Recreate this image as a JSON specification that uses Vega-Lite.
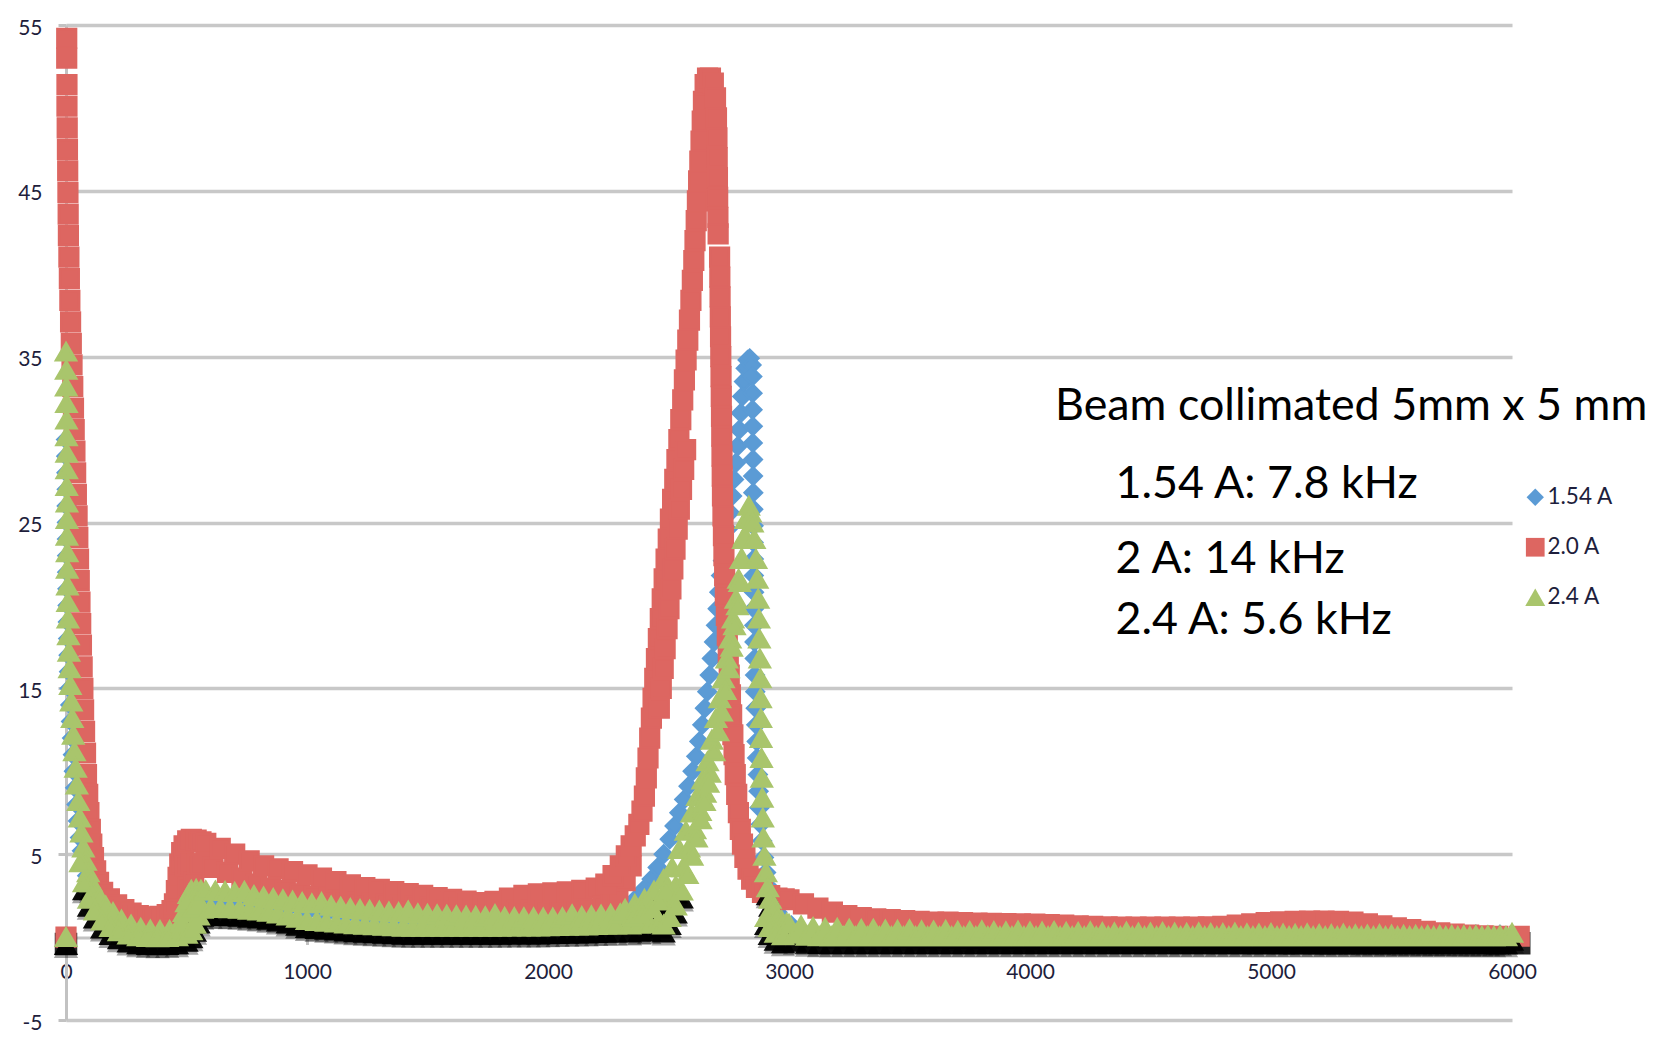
{
"$schema":"https://vega.github.io/schema/vega-lite/v6.json",
"width":1446,"height":995,
"autosize":{"type":"none"},
"padding":{"left":66,"top":25,"right":152,"bottom":37},
"background":"white",
"config":{"view":{"stroke":null},
"axis":{"labelFont":"Lato","labelFontSize":21,"labelColor":"#1e1e3c","domainColor":"#c2c2c2","domainWidth":3,"tickColor":"#c2c2c2","tickWidth":3,"gridColor":"#c8c8c8","gridWidth":3.5,"title":null,"labelFlush":false,"labelOverlap":false}},
"datasets":{
"pts":[
{"s":"1.54 A","x":0,"y":0},{"s":"1.54 A","x":0,"y":30},{"s":"1.54 A","x":1,"y":29},{"s":"1.54 A","x":2,"y":28},{"s":"1.54 A","x":3,"y":27},{"s":"1.54 A","x":3,"y":26},{"s":"1.54 A","x":4,"y":25},{"s":"1.54 A","x":4,"y":24},{"s":"1.54 A","x":5,"y":23},{"s":"1.54 A","x":5,"y":22},{"s":"1.54 A","x":6,"y":21},{"s":"1.54 A","x":7,"y":20},{"s":"1.54 A","x":8,"y":19},{"s":"1.54 A","x":9,"y":18},{"s":"1.54 A","x":11,"y":17},{"s":"1.54 A","x":13,"y":16},{"s":"1.54 A","x":15,"y":15},{"s":"1.54 A","x":18,"y":14},{"s":"1.54 A","x":21,"y":13},{"s":"1.54 A","x":25,"y":12},{"s":"1.54 A","x":29,"y":11},{"s":"1.54 A","x":33,"y":10},{"s":"1.54 A","x":38,"y":9},{"s":"1.54 A","x":44,"y":8},{"s":"1.54 A","x":50,"y":7},{"s":"1.54 A","x":58,"y":6},{"s":"1.54 A","x":66,"y":5.2},{"s":"1.54 A","x":76,"y":4.4},{"s":"1.54 A","x":88,"y":3.7},{"s":"1.54 A","x":100,"y":3.1},{"s":"1.54 A","x":120,"y":2.4},{"s":"1.54 A","x":140,"y":1.9},{"s":"1.54 A","x":170,"y":1.4},{"s":"1.54 A","x":200,"y":1.1},{"s":"1.54 A","x":240,"y":0.8},{"s":"1.54 A","x":280,"y":0.55},{"s":"1.54 A","x":320,"y":0.4},{"s":"1.54 A","x":360,"y":0.35},{"s":"1.54 A","x":400,"y":0.35},{"s":"1.54 A","x":440,"y":0.4},{"s":"1.54 A","x":470,"y":0.5},{"s":"1.54 A","x":490,"y":0.8},{"s":"1.54 A","x":505,"y":1.4},{"s":"1.54 A","x":520,"y":1.9},{"s":"1.54 A","x":540,"y":1.8},
{"s":"1.54 A","x":560,"y":2.3},{"s":"1.54 A","x":600,"y":2.1},{"s":"1.54 A","x":680,"y":2.2},{"s":"1.54 A","x":760,"y":2.0},{"s":"1.54 A","x":840,"y":1.9},{"s":"1.54 A","x":920,"y":1.7},{"s":"1.54 A","x":1000,"y":1.5},{"s":"1.54 A","x":1080,"y":1.4},{"s":"1.54 A","x":1160,"y":1.3},{"s":"1.54 A","x":1240,"y":1.2},{"s":"1.54 A","x":1320,"y":1.1},{"s":"1.54 A","x":1400,"y":1.05},{"s":"1.54 A","x":1480,"y":1.0},{"s":"1.54 A","x":1560,"y":1.0},{"s":"1.54 A","x":1640,"y":0.95},{"s":"1.54 A","x":1720,"y":0.95},{"s":"1.54 A","x":1800,"y":0.92},{"s":"1.54 A","x":1880,"y":0.92},{"s":"1.54 A","x":1960,"y":0.9},{"s":"1.54 A","x":2040,"y":0.9},{"s":"1.54 A","x":2120,"y":0.95},{"s":"1.54 A","x":2200,"y":1.0},{"s":"1.54 A","x":2260,"y":1.1},{"s":"1.54 A","x":2300,"y":1.3},
{"s":"1.54 A","x":2340,"y":1.9},{"s":"1.54 A","x":2370,"y":2.4},{"s":"1.54 A","x":2400,"y":2.9},{"s":"1.54 A","x":2430,"y":3.5},{"s":"1.54 A","x":2455,"y":4.2},{"s":"1.54 A","x":2480,"y":5.0},{"s":"1.54 A","x":2505,"y":5.9},{"s":"1.54 A","x":2525,"y":6.7},{"s":"1.54 A","x":2545,"y":7.5},{"s":"1.54 A","x":2565,"y":8.3},{"s":"1.54 A","x":2583,"y":9.1},{"s":"1.54 A","x":2600,"y":10.0},{"s":"1.54 A","x":2615,"y":10.9},{"s":"1.54 A","x":2628,"y":11.8},{"s":"1.54 A","x":2640,"y":12.8},{"s":"1.54 A","x":2651,"y":13.8},{"s":"1.54 A","x":2661,"y":14.8},{"s":"1.54 A","x":2671,"y":15.8},{"s":"1.54 A","x":2680,"y":16.8},{"s":"1.54 A","x":2689,"y":17.8},{"s":"1.54 A","x":2697,"y":18.8},{"s":"1.54 A","x":2704,"y":19.8},{"s":"1.54 A","x":2711,"y":20.8},{"s":"1.54 A","x":2718,"y":21.8},{"s":"1.54 A","x":2726,"y":22.7},{"s":"1.54 A","x":2735,"y":23.6},{"s":"1.54 A","x":2745,"y":24.6},{"s":"1.54 A","x":2755,"y":25.6},{"s":"1.54 A","x":2764,"y":26.6},{"s":"1.54 A","x":2772,"y":27.6},{"s":"1.54 A","x":2780,"y":28.6},{"s":"1.54 A","x":2787,"y":29.6},{"s":"1.54 A","x":2794,"y":30.6},{"s":"1.54 A","x":2800,"y":31.6},{"s":"1.54 A","x":2806,"y":32.6},{"s":"1.54 A","x":2813,"y":33.5},{"s":"1.54 A","x":2820,"y":34.3},{"s":"1.54 A","x":2828,"y":34.8},{"s":"1.54 A","x":2837,"y":34.9},{"s":"1.54 A","x":2845,"y":34.5},
{"s":"1.54 A","x":2848,"y":33.8},{"s":"1.54 A","x":2849,"y":32.8},{"s":"1.54 A","x":2849,"y":31.8},{"s":"1.54 A","x":2850,"y":30.8},{"s":"1.54 A","x":2850,"y":29.8},{"s":"1.54 A","x":2851,"y":28.8},{"s":"1.54 A","x":2851,"y":27.8},{"s":"1.54 A","x":2852,"y":26.8},{"s":"1.54 A","x":2852,"y":25.8},{"s":"1.54 A","x":2853,"y":24.8},{"s":"1.54 A","x":2853,"y":23.8},{"s":"1.54 A","x":2854,"y":22.8},{"s":"1.54 A","x":2854,"y":21.8},{"s":"1.54 A","x":2855,"y":20.8},{"s":"1.54 A","x":2855,"y":19.8},{"s":"1.54 A","x":2856,"y":18.8},{"s":"1.54 A","x":2857,"y":17.8},{"s":"1.54 A","x":2858,"y":16.8},{"s":"1.54 A","x":2859,"y":15.8},{"s":"1.54 A","x":2860,"y":14.8},{"s":"1.54 A","x":2862,"y":13.8},{"s":"1.54 A","x":2864,"y":12.8},{"s":"1.54 A","x":2866,"y":11.8},{"s":"1.54 A","x":2868,"y":10.8},{"s":"1.54 A","x":2871,"y":9.8},{"s":"1.54 A","x":2874,"y":8.8},{"s":"1.54 A","x":2878,"y":7.8},{"s":"1.54 A","x":2883,"y":6.8},{"s":"1.54 A","x":2889,"y":5.8},{"s":"1.54 A","x":2896,"y":4.8},{"s":"1.54 A","x":2905,"y":3.9},{"s":"1.54 A","x":2917,"y":3.0},{"s":"1.54 A","x":2932,"y":2.2},{"s":"1.54 A","x":2952,"y":1.5},{"s":"1.54 A","x":2978,"y":1.0},{"s":"1.54 A","x":3010,"y":0.7},
{"s":"1.54 A","x":3050,"y":0.3},{"s":"1.54 A","x":3150,"y":0.15},{"s":"1.54 A","x":3250,"y":0.3},{"s":"1.54 A","x":3350,"y":0.15},{"s":"1.54 A","x":3450,"y":0.25},{"s":"1.54 A","x":3550,"y":0.15},{"s":"1.54 A","x":3650,"y":0.25},{"s":"1.54 A","x":3750,"y":0.15},{"s":"1.54 A","x":3850,"y":0.25},{"s":"1.54 A","x":3950,"y":0.15},{"s":"1.54 A","x":4050,"y":0.25},{"s":"1.54 A","x":4150,"y":0.15},{"s":"1.54 A","x":4250,"y":0.25},{"s":"1.54 A","x":4350,"y":0.15},{"s":"1.54 A","x":4450,"y":0.25},{"s":"1.54 A","x":4550,"y":0.15},{"s":"1.54 A","x":4650,"y":0.25},{"s":"1.54 A","x":4750,"y":0.15},{"s":"1.54 A","x":4850,"y":0.2},{"s":"1.54 A","x":4950,"y":0.15},{"s":"1.54 A","x":5050,"y":0.2},{"s":"1.54 A","x":5150,"y":0.15},{"s":"1.54 A","x":5250,"y":0.2},{"s":"1.54 A","x":5350,"y":0.15},{"s":"1.54 A","x":5450,"y":0.15},{"s":"1.54 A","x":5550,"y":0.15},{"s":"1.54 A","x":5650,"y":0.15},{"s":"1.54 A","x":5750,"y":0.15},{"s":"1.54 A","x":5850,"y":0.15},{"s":"1.54 A","x":5950,"y":0.15},

{"s":"2.0 A","x":0,"y":0},{"s":"2.0 A","x":3,"y":54.2},{"s":"2.0 A","x":3,"y":53.0},{"s":"2.0 A","x":4,"y":51.4},{"s":"2.0 A","x":4,"y":50.1},{"s":"2.0 A","x":5,"y":48.8},{"s":"2.0 A","x":6,"y":47.5},{"s":"2.0 A","x":7,"y":46.2},{"s":"2.0 A","x":8,"y":44.9},{"s":"2.0 A","x":9,"y":43.6},{"s":"2.0 A","x":10,"y":42.3},{"s":"2.0 A","x":12,"y":41.0},{"s":"2.0 A","x":14,"y":39.7},{"s":"2.0 A","x":16,"y":38.4},{"s":"2.0 A","x":19,"y":37.1},{"s":"2.0 A","x":22,"y":35.8},{"s":"2.0 A","x":25,"y":34.5},{"s":"2.0 A","x":28,"y":33.2},{"s":"2.0 A","x":31,"y":31.9},{"s":"2.0 A","x":34,"y":30.6},{"s":"2.0 A","x":37,"y":29.3},{"s":"2.0 A","x":40,"y":28.0},{"s":"2.0 A","x":43,"y":26.7},{"s":"2.0 A","x":46,"y":25.4},{"s":"2.0 A","x":49,"y":24.1},{"s":"2.0 A","x":52,"y":22.8},{"s":"2.0 A","x":55,"y":21.5},{"s":"2.0 A","x":58,"y":20.2},{"s":"2.0 A","x":61,"y":18.9},{"s":"2.0 A","x":64,"y":17.6},{"s":"2.0 A","x":67,"y":16.3},{"s":"2.0 A","x":70,"y":15.0},{"s":"2.0 A","x":73,"y":13.7},{"s":"2.0 A","x":77,"y":12.4},{"s":"2.0 A","x":81,"y":11.1},{"s":"2.0 A","x":85,"y":9.8},{"s":"2.0 A","x":90,"y":8.6},{"s":"2.0 A","x":95,"y":7.5},{"s":"2.0 A","x":101,"y":6.5},{"s":"2.0 A","x":107,"y":5.6},{"s":"2.0 A","x":114,"y":4.8},{"s":"2.0 A","x":123,"y":4.0},{"s":"2.0 A","x":135,"y":3.3},{"s":"2.0 A","x":152,"y":2.7},{"s":"2.0 A","x":180,"y":2.3},{"s":"2.0 A","x":210,"y":1.95},{"s":"2.0 A","x":240,"y":1.65},{"s":"2.0 A","x":270,"y":1.45},{"s":"2.0 A","x":300,"y":1.3},{"s":"2.0 A","x":330,"y":1.2},{"s":"2.0 A","x":360,"y":1.2},{"s":"2.0 A","x":390,"y":1.25},{"s":"2.0 A","x":420,"y":1.35},{"s":"2.0 A","x":440,"y":1.6},
{"s":"2.0 A","x":450,"y":2.0},{"s":"2.0 A","x":458,"y":2.8},{"s":"2.0 A","x":465,"y":3.6},{"s":"2.0 A","x":472,"y":4.4},{"s":"2.0 A","x":480,"y":5.1},{"s":"2.0 A","x":490,"y":5.5},{"s":"2.0 A","x":505,"y":5.8},{"s":"2.0 A","x":520,"y":5.9},{"s":"2.0 A","x":540,"y":5.85},{"s":"2.0 A","x":560,"y":5.75},
{"s":"2.0 A","x":495,"y":4.3},{"s":"2.0 A","x":505,"y":3.0},{"s":"2.0 A","x":520,"y":4.4},{"s":"2.0 A","x":530,"y":3.3},{"s":"2.0 A","x":545,"y":4.4},{"s":"2.0 A","x":560,"y":4.4},
{"s":"2.0 A","x":580,"y":5.65},{"s":"2.0 A","x":610,"y":4.2},{"s":"2.0 A","x":640,"y":5.35},{"s":"2.0 A","x":670,"y":3.9},{"s":"2.0 A","x":700,"y":5.0},{"s":"2.0 A","x":730,"y":3.55},{"s":"2.0 A","x":760,"y":4.6},{"s":"2.0 A","x":790,"y":3.2},{"s":"2.0 A","x":820,"y":4.3},{"s":"2.0 A","x":850,"y":2.95},{"s":"2.0 A","x":880,"y":4.12},{"s":"2.0 A","x":910,"y":2.8},{"s":"2.0 A","x":940,"y":3.95},{"s":"2.0 A","x":970,"y":2.6},{"s":"2.0 A","x":1000,"y":3.75},{"s":"2.0 A","x":1030,"y":2.45},{"s":"2.0 A","x":1060,"y":3.55},{"s":"2.0 A","x":1090,"y":2.35},{"s":"2.0 A","x":1120,"y":3.35},{"s":"2.0 A","x":1150,"y":2.2},{"s":"2.0 A","x":1180,"y":3.15},{"s":"2.0 A","x":1210,"y":2.1},{"s":"2.0 A","x":1240,"y":2.98},{"s":"2.0 A","x":1270,"y":2.05},{"s":"2.0 A","x":1300,"y":2.88},{"s":"2.0 A","x":1330,"y":2.0},{"s":"2.0 A","x":1360,"y":2.75},{"s":"2.0 A","x":1390,"y":1.93},{"s":"2.0 A","x":1420,"y":2.62},{"s":"2.0 A","x":1450,"y":1.88},{"s":"2.0 A","x":1480,"y":2.52},{"s":"2.0 A","x":1510,"y":1.83},{"s":"2.0 A","x":1540,"y":2.38},{"s":"2.0 A","x":1570,"y":1.78},{"s":"2.0 A","x":1600,"y":2.27},{"s":"2.0 A","x":1630,"y":1.75},{"s":"2.0 A","x":1660,"y":2.17},{"s":"2.0 A","x":1690,"y":1.72},{"s":"2.0 A","x":1720,"y":2.08},{"s":"2.0 A","x":1750,"y":1.68},{"s":"2.0 A","x":1780,"y":2.15},{"s":"2.0 A","x":1810,"y":1.65},{"s":"2.0 A","x":1840,"y":2.35},{"s":"2.0 A","x":1870,"y":1.63},{"s":"2.0 A","x":1900,"y":2.52},{"s":"2.0 A","x":1930,"y":1.61},{"s":"2.0 A","x":1960,"y":2.6},{"s":"2.0 A","x":1990,"y":1.6},{"s":"2.0 A","x":2020,"y":2.66},{"s":"2.0 A","x":2050,"y":1.6},{"s":"2.0 A","x":2080,"y":2.72},{"s":"2.0 A","x":2110,"y":1.65},{"s":"2.0 A","x":2140,"y":2.82},{"s":"2.0 A","x":2170,"y":1.7},{"s":"2.0 A","x":2200,"y":2.95},{"s":"2.0 A","x":2230,"y":1.85},
{"s":"2.0 A","x":2260,"y":2.2},{"s":"2.0 A","x":2290,"y":2.6},{"s":"2.0 A","x":2320,"y":3.4},{"s":"2.0 A","x":2345,"y":4.3},
{"s":"2.0 A","x":2240,"y":3.2},{"s":"2.0 A","x":2270,"y":3.7},{"s":"2.0 A","x":2300,"y":4.3},{"s":"2.0 A","x":2325,"y":4.9},{"s":"2.0 A","x":2345,"y":5.5},{"s":"2.0 A","x":2362,"y":6.1},{"s":"2.0 A","x":2377,"y":6.8},{"s":"2.0 A","x":2390,"y":7.6},{"s":"2.0 A","x":2400,"y":8.5},{"s":"2.0 A","x":2408,"y":9.6},{"s":"2.0 A","x":2415,"y":10.8},{"s":"2.0 A","x":2422,"y":12},{"s":"2.0 A","x":2429,"y":13.2},{"s":"2.0 A","x":2436,"y":14.4},{"s":"2.0 A","x":2443,"y":15.6},{"s":"2.0 A","x":2450,"y":16.8},{"s":"2.0 A","x":2458,"y":18},{"s":"2.0 A","x":2466,"y":19.2},{"s":"2.0 A","x":2474,"y":20.4},{"s":"2.0 A","x":2482,"y":21.6},{"s":"2.0 A","x":2490,"y":22.8},{"s":"2.0 A","x":2499,"y":24},{"s":"2.0 A","x":2508,"y":25.2},{"s":"2.0 A","x":2517,"y":26.4},{"s":"2.0 A","x":2526,"y":27.6},{"s":"2.0 A","x":2535,"y":28.8},{"s":"2.0 A","x":2543,"y":30},{"s":"2.0 A","x":2551,"y":31.2},{"s":"2.0 A","x":2559,"y":32.4},{"s":"2.0 A","x":2566,"y":33.6},{"s":"2.0 A","x":2573,"y":34.8},{"s":"2.0 A","x":2580,"y":36},{"s":"2.0 A","x":2587,"y":37.2},{"s":"2.0 A","x":2593,"y":38.4},{"s":"2.0 A","x":2599,"y":39.6},{"s":"2.0 A","x":2605,"y":40.8},{"s":"2.0 A","x":2610,"y":42},{"s":"2.0 A","x":2615,"y":43.2},{"s":"2.0 A","x":2620,"y":44.4},{"s":"2.0 A","x":2625,"y":45.6},{"s":"2.0 A","x":2630,"y":46.8},{"s":"2.0 A","x":2635,"y":48},{"s":"2.0 A","x":2640,"y":49.2},{"s":"2.0 A","x":2645,"y":50.4},{"s":"2.0 A","x":2652,"y":51.4},{"s":"2.0 A","x":2662,"y":51.8},{"s":"2.0 A","x":2674,"y":51.8},{"s":"2.0 A","x":2686,"y":51.5},{"s":"2.0 A","x":2695,"y":50.6},{"s":"2.0 A","x":2699,"y":49.4},{"s":"2.0 A","x":2701,"y":48.2},{"s":"2.0 A","x":2702,"y":47},{"s":"2.0 A","x":2703,"y":45.8},{"s":"2.0 A","x":2704,"y":44.6},{"s":"2.0 A","x":2705,"y":43.4},{"s":"2.0 A","x":2706,"y":42.4},{"s":"2.0 A","x":2712,"y":41},{"s":"2.0 A","x":2713,"y":39.8},{"s":"2.0 A","x":2714,"y":38.6},{"s":"2.0 A","x":2715,"y":37.4},{"s":"2.0 A","x":2716,"y":36.2},{"s":"2.0 A","x":2717,"y":35},{"s":"2.0 A","x":2718,"y":33.8},{"s":"2.0 A","x":2719,"y":32.6},{"s":"2.0 A","x":2720,"y":31.4},{"s":"2.0 A","x":2721,"y":30.2},{"s":"2.0 A","x":2722,"y":29},{"s":"2.0 A","x":2723,"y":27.8},{"s":"2.0 A","x":2724,"y":26.6},{"s":"2.0 A","x":2726,"y":25.4},{"s":"2.0 A","x":2728,"y":24.2},{"s":"2.0 A","x":2730,"y":23},{"s":"2.0 A","x":2733,"y":21.8},{"s":"2.0 A","x":2736,"y":20.6},{"s":"2.0 A","x":2740,"y":19.4},{"s":"2.0 A","x":2744,"y":18.2},{"s":"2.0 A","x":2748,"y":17},{"s":"2.0 A","x":2752,"y":15.8},{"s":"2.0 A","x":2757,"y":14.6},{"s":"2.0 A","x":2762,"y":13.4},{"s":"2.0 A","x":2767,"y":12.2},{"s":"2.0 A","x":2772,"y":11},{"s":"2.0 A","x":2777,"y":9.8},{"s":"2.0 A","x":2783,"y":8.6},{"s":"2.0 A","x":2790,"y":7.5},{"s":"2.0 A","x":2798,"y":6.5},{"s":"2.0 A","x":2807,"y":5.6},{"s":"2.0 A","x":2817,"y":4.8},{"s":"2.0 A","x":2830,"y":4.1},{"s":"2.0 A","x":2845,"y":3.5},{"s":"2.0 A","x":2865,"y":3.0},{"s":"2.0 A","x":2890,"y":2.7},{"s":"2.0 A","x":2920,"y":2.5},{"s":"2.0 A","x":2950,"y":2.35},{"s":"2.0 A","x":2980,"y":2.3},
{"s":"2.0 A","x":2462,"y":13.8},{"s":"2.0 A","x":2470,"y":15.0},{"s":"2.0 A","x":2478,"y":16.2},{"s":"2.0 A","x":2486,"y":17.4},{"s":"2.0 A","x":2494,"y":18.6},{"s":"2.0 A","x":2502,"y":19.8},{"s":"2.0 A","x":2510,"y":21.0},{"s":"2.0 A","x":2518,"y":22.2},{"s":"2.0 A","x":2527,"y":23.4},{"s":"2.0 A","x":2536,"y":24.6},{"s":"2.0 A","x":2545,"y":25.8},{"s":"2.0 A","x":2554,"y":27.0},{"s":"2.0 A","x":2563,"y":28.2},{"s":"2.0 A","x":2571,"y":29.4},
{"s":"2.0 A","x":3000,"y":2.25},{"s":"2.0 A","x":3060,"y":2.0},{"s":"2.0 A","x":3120,"y":1.75},{"s":"2.0 A","x":3180,"y":1.5},{"s":"2.0 A","x":3240,"y":1.3},{"s":"2.0 A","x":3300,"y":1.18},{"s":"2.0 A","x":3360,"y":1.1},{"s":"2.0 A","x":3420,"y":1.05},{"s":"2.0 A","x":3480,"y":1.0},{"s":"2.0 A","x":3540,"y":0.95},{"s":"2.0 A","x":3600,"y":0.9},{"s":"2.0 A","x":3660,"y":0.9},{"s":"2.0 A","x":3720,"y":0.87},{"s":"2.0 A","x":3780,"y":0.85},{"s":"2.0 A","x":3840,"y":0.83},{"s":"2.0 A","x":3900,"y":0.82},{"s":"2.0 A","x":3960,"y":0.8},{"s":"2.0 A","x":4020,"y":0.78},{"s":"2.0 A","x":4080,"y":0.75},{"s":"2.0 A","x":4140,"y":0.72},{"s":"2.0 A","x":4200,"y":0.68},{"s":"2.0 A","x":4260,"y":0.65},{"s":"2.0 A","x":4320,"y":0.62},{"s":"2.0 A","x":4380,"y":0.6},{"s":"2.0 A","x":4440,"y":0.6},{"s":"2.0 A","x":4500,"y":0.6},{"s":"2.0 A","x":4560,"y":0.6},{"s":"2.0 A","x":4620,"y":0.6},{"s":"2.0 A","x":4680,"y":0.6},{"s":"2.0 A","x":4740,"y":0.62},{"s":"2.0 A","x":4800,"y":0.65},{"s":"2.0 A","x":4860,"y":0.72},{"s":"2.0 A","x":4920,"y":0.8},{"s":"2.0 A","x":4980,"y":0.88},{"s":"2.0 A","x":5040,"y":0.92},{"s":"2.0 A","x":5100,"y":0.95},{"s":"2.0 A","x":5160,"y":0.97},{"s":"2.0 A","x":5220,"y":0.97},{"s":"2.0 A","x":5280,"y":0.95},{"s":"2.0 A","x":5340,"y":0.9},{"s":"2.0 A","x":5400,"y":0.8},{"s":"2.0 A","x":5460,"y":0.68},{"s":"2.0 A","x":5520,"y":0.55},{"s":"2.0 A","x":5580,"y":0.45},{"s":"2.0 A","x":5640,"y":0.35},{"s":"2.0 A","x":5700,"y":0.25},{"s":"2.0 A","x":5760,"y":0.18},{"s":"2.0 A","x":5820,"y":0.12},{"s":"2.0 A","x":5880,"y":0.08},{"s":"2.0 A","x":5940,"y":0.05},{"s":"2.0 A","x":6030,"y":0.05},

{"s":"2.4 A","x":0,"y":0},{"s":"2.4 A","x":0,"y":35.3},{"s":"2.4 A","x":1,"y":34.2},{"s":"2.4 A","x":1,"y":33.2},{"s":"2.4 A","x":2,"y":32.2},{"s":"2.4 A","x":2,"y":31.2},{"s":"2.4 A","x":2,"y":30.2},{"s":"2.4 A","x":3,"y":29.2},{"s":"2.4 A","x":3,"y":28.2},{"s":"2.4 A","x":3,"y":27.2},{"s":"2.4 A","x":4,"y":26.2},{"s":"2.4 A","x":4,"y":25.2},{"s":"2.4 A","x":4,"y":24.2},{"s":"2.4 A","x":5,"y":23.2},{"s":"2.4 A","x":5,"y":22.2},{"s":"2.4 A","x":6,"y":21.2},{"s":"2.4 A","x":7,"y":20.2},{"s":"2.4 A","x":8,"y":19.2},{"s":"2.4 A","x":10,"y":18.2},{"s":"2.4 A","x":12,"y":17.2},{"s":"2.4 A","x":15,"y":16.2},{"s":"2.4 A","x":18,"y":15.2},{"s":"2.4 A","x":22,"y":14.2},{"s":"2.4 A","x":26,"y":13.2},{"s":"2.4 A","x":30,"y":12.2},{"s":"2.4 A","x":35,"y":11.2},{"s":"2.4 A","x":40,"y":10.2},{"s":"2.4 A","x":45,"y":9.2},{"s":"2.4 A","x":51,"y":8.2},{"s":"2.4 A","x":57,"y":7.2},{"s":"2.4 A","x":64,"y":6.3},{"s":"2.4 A","x":72,"y":5.4},{"s":"2.4 A","x":81,"y":4.6},{"s":"2.4 A","x":92,"y":3.9},{"s":"2.4 A","x":105,"y":3.3},{"s":"2.4 A","x":120,"y":2.8},{"s":"2.4 A","x":140,"y":2.4},{"s":"2.4 A","x":165,"y":1.9},{"s":"2.4 A","x":195,"y":1.5},{"s":"2.4 A","x":230,"y":1.05},{"s":"2.4 A","x":270,"y":0.75},{"s":"2.4 A","x":310,"y":0.55},{"s":"2.4 A","x":350,"y":0.45},{"s":"2.4 A","x":390,"y":0.42},{"s":"2.4 A","x":430,"y":0.42},{"s":"2.4 A","x":460,"y":0.5},
{"s":"2.4 A","x":60,"y":4.5},{"s":"2.4 A","x":75,"y":3.3},{"s":"2.4 A","x":95,"y":2.3},{"s":"2.4 A","x":120,"y":1.6},{"s":"2.4 A","x":150,"y":1.0},{"s":"2.4 A","x":185,"y":0.6},{"s":"2.4 A","x":220,"y":0.35},{"s":"2.4 A","x":260,"y":0.15},{"s":"2.4 A","x":300,"y":0.05},{"s":"2.4 A","x":340,"y":0.0},{"s":"2.4 A","x":380,"y":-0.02},{"s":"2.4 A","x":420,"y":0.0},{"s":"2.4 A","x":460,"y":0.05},{"s":"2.4 A","x":500,"y":0.2},
{"s":"2.4 A","x":480,"y":0.9},{"s":"2.4 A","x":490,"y":1.5},{"s":"2.4 A","x":500,"y":2.1},{"s":"2.4 A","x":510,"y":2.6},{"s":"2.4 A","x":520,"y":2.85},{"s":"2.4 A","x":540,"y":2.9},{"s":"2.4 A","x":560,"y":2.85},{"s":"2.4 A","x":520,"y":0.4},{"s":"2.4 A","x":535,"y":0.8},{"s":"2.4 A","x":550,"y":1.3},{"s":"2.4 A","x":565,"y":1.7},{"s":"2.4 A","x":530,"y":1.8},{"s":"2.4 A","x":550,"y":2.2},
{"s":"2.4 A","x":580,"y":2.82},{"s":"2.4 A","x":600,"y":1.76},{"s":"2.4 A","x":620,"y":2.8},{"s":"2.4 A","x":640,"y":1.75},{"s":"2.4 A","x":660,"y":2.77},{"s":"2.4 A","x":680,"y":1.73},{"s":"2.4 A","x":700,"y":2.72},{"s":"2.4 A","x":720,"y":1.7},{"s":"2.4 A","x":740,"y":2.78},{"s":"2.4 A","x":760,"y":1.65},{"s":"2.4 A","x":780,"y":2.53},{"s":"2.4 A","x":800,"y":1.6},{"s":"2.4 A","x":820,"y":2.44},{"s":"2.4 A","x":840,"y":1.52},{"s":"2.4 A","x":860,"y":2.35},{"s":"2.4 A","x":880,"y":1.42},{"s":"2.4 A","x":900,"y":2.27},{"s":"2.4 A","x":920,"y":1.3},{"s":"2.4 A","x":940,"y":2.19},{"s":"2.4 A","x":960,"y":1.16},{"s":"2.4 A","x":980,"y":2.11},{"s":"2.4 A","x":1000,"y":1.02},{"s":"2.4 A","x":1020,"y":2.03},{"s":"2.4 A","x":1040,"y":0.97},{"s":"2.4 A","x":1060,"y":2.1},{"s":"2.4 A","x":1080,"y":0.92},{"s":"2.4 A","x":1100,"y":1.89},{"s":"2.4 A","x":1120,"y":0.87},{"s":"2.4 A","x":1140,"y":1.82},{"s":"2.4 A","x":1160,"y":0.82},{"s":"2.4 A","x":1180,"y":1.75},{"s":"2.4 A","x":1200,"y":0.77},{"s":"2.4 A","x":1220,"y":1.69},{"s":"2.4 A","x":1240,"y":0.74},{"s":"2.4 A","x":1260,"y":1.64},{"s":"2.4 A","x":1280,"y":0.71},{"s":"2.4 A","x":1300,"y":1.59},{"s":"2.4 A","x":1320,"y":0.68},{"s":"2.4 A","x":1340,"y":1.54},{"s":"2.4 A","x":1360,"y":0.65},{"s":"2.4 A","x":1380,"y":1.5},{"s":"2.4 A","x":1400,"y":0.62},{"s":"2.4 A","x":1420,"y":1.6},{"s":"2.4 A","x":1440,"y":0.62},{"s":"2.4 A","x":1460,"y":1.43},{"s":"2.4 A","x":1480,"y":0.62},{"s":"2.4 A","x":1500,"y":1.4},{"s":"2.4 A","x":1520,"y":0.62},{"s":"2.4 A","x":1540,"y":1.37},{"s":"2.4 A","x":1560,"y":0.62},{"s":"2.4 A","x":1580,"y":1.34},{"s":"2.4 A","x":1600,"y":0.62},{"s":"2.4 A","x":1620,"y":1.31},{"s":"2.4 A","x":1640,"y":0.62},{"s":"2.4 A","x":1660,"y":1.29},{"s":"2.4 A","x":1680,"y":0.62},{"s":"2.4 A","x":1700,"y":1.27},{"s":"2.4 A","x":1720,"y":0.62},{"s":"2.4 A","x":1740,"y":1.25},{"s":"2.4 A","x":1760,"y":0.62},{"s":"2.4 A","x":1780,"y":1.38},{"s":"2.4 A","x":1800,"y":0.62},{"s":"2.4 A","x":1820,"y":1.21},{"s":"2.4 A","x":1840,"y":0.63},{"s":"2.4 A","x":1860,"y":1.2},{"s":"2.4 A","x":1880,"y":0.63},{"s":"2.4 A","x":1900,"y":1.19},{"s":"2.4 A","x":1920,"y":0.64},{"s":"2.4 A","x":1940,"y":1.18},{"s":"2.4 A","x":1960,"y":0.64},{"s":"2.4 A","x":1980,"y":1.17},{"s":"2.4 A","x":2000,"y":0.65},{"s":"2.4 A","x":2020,"y":1.17},{"s":"2.4 A","x":2040,"y":0.66},{"s":"2.4 A","x":2060,"y":1.19},{"s":"2.4 A","x":2080,"y":0.68},{"s":"2.4 A","x":2100,"y":1.37},{"s":"2.4 A","x":2120,"y":0.69},{"s":"2.4 A","x":2140,"y":1.26},{"s":"2.4 A","x":2160,"y":0.7},{"s":"2.4 A","x":2180,"y":1.3},{"s":"2.4 A","x":2200,"y":0.72},{"s":"2.4 A","x":2220,"y":1.35},{"s":"2.4 A","x":2240,"y":0.74},{"s":"2.4 A","x":2260,"y":1.39},{"s":"2.4 A","x":2280,"y":0.76},{"s":"2.4 A","x":2300,"y":1.43},
{"s":"2.4 A","x":2320,"y":1.7},{"s":"2.4 A","x":2340,"y":0.75},{"s":"2.4 A","x":2360,"y":2.0},{"s":"2.4 A","x":2380,"y":0.8},{"s":"2.4 A","x":2400,"y":2.3},{"s":"2.4 A","x":2420,"y":0.85},{"s":"2.4 A","x":2440,"y":2.8},{"s":"2.4 A","x":2460,"y":1.0},{"s":"2.4 A","x":2480,"y":3.5},{"s":"2.4 A","x":2500,"y":2.3},{"s":"2.4 A","x":2515,"y":4.2},{"s":"2.4 A","x":2530,"y":3.1},{"s":"2.4 A","x":2545,"y":5.3},{"s":"2.4 A","x":2560,"y":4.2},{"s":"2.4 A","x":2572,"y":6.4},{"s":"2.4 A","x":2585,"y":5.4},{"s":"2.4 A","x":2597,"y":7.5},{"s":"2.4 A","x":2610,"y":6.5},{"s":"2.4 A","x":2620,"y":8.5},{"s":"2.4 A","x":2632,"y":7.6},{"s":"2.4 A","x":2642,"y":9.5},{"s":"2.4 A","x":2652,"y":8.7},{"s":"2.4 A","x":2662,"y":10.6},{"s":"2.4 A","x":2671,"y":9.9},{"s":"2.4 A","x":2680,"y":11.9},{"s":"2.4 A","x":2689,"y":11.2},{"s":"2.4 A","x":2697,"y":13.2},{"s":"2.4 A","x":2705,"y":12.4},{"s":"2.4 A","x":2713,"y":14.4},{"s":"2.4 A","x":2720,"y":13.6},{"s":"2.4 A","x":2728,"y":15.6},{"s":"2.4 A","x":2735,"y":14.9},{"s":"2.4 A","x":2742,"y":16.8},{"s":"2.4 A","x":2749,"y":16.2},{"s":"2.4 A","x":2756,"y":18.0},{"s":"2.4 A","x":2762,"y":17.5},{"s":"2.4 A","x":2768,"y":19.2},{"s":"2.4 A","x":2774,"y":18.8},{"s":"2.4 A","x":2780,"y":20.4},{"s":"2.4 A","x":2786,"y":20.0},{"s":"2.4 A","x":2791,"y":21.6},{"s":"2.4 A","x":2796,"y":21.4},{"s":"2.4 A","x":2801,"y":22.8},{"s":"2.4 A","x":2806,"y":22.8},{"s":"2.4 A","x":2811,"y":24.0},{"s":"2.4 A","x":2816,"y":24.2},{"s":"2.4 A","x":2821,"y":25.2},{"s":"2.4 A","x":2827,"y":25.2},{"s":"2.4 A","x":2833,"y":26.0},{"s":"2.4 A","x":2840,"y":25.6},
{"s":"2.4 A","x":2350,"y":1.25},{"s":"2.4 A","x":2390,"y":1.45},{"s":"2.4 A","x":2430,"y":1.75},{"s":"2.4 A","x":2465,"y":2.2},{"s":"2.4 A","x":2490,"y":2.9},
{"s":"2.4 A","x":2480,"y":0.75},{"s":"2.4 A","x":2505,"y":1.2},{"s":"2.4 A","x":2530,"y":1.9},{"s":"2.4 A","x":2555,"y":2.8},{"s":"2.4 A","x":2578,"y":3.8},{"s":"2.4 A","x":2598,"y":4.9},{"s":"2.4 A","x":2616,"y":6.0},{"s":"2.4 A","x":2633,"y":7.1},{"s":"2.4 A","x":2649,"y":8.2},{"s":"2.4 A","x":2664,"y":9.3},
{"s":"2.4 A","x":2848,"y":25.0},{"s":"2.4 A","x":2856,"y":24.0},{"s":"2.4 A","x":2863,"y":22.8},{"s":"2.4 A","x":2868,"y":21.6},{"s":"2.4 A","x":2872,"y":20.4},{"s":"2.4 A","x":2875,"y":19.2},{"s":"2.4 A","x":2877,"y":18.0},{"s":"2.4 A","x":2879,"y":16.8},{"s":"2.4 A","x":2881,"y":15.6},{"s":"2.4 A","x":2882,"y":14.4},{"s":"2.4 A","x":2883,"y":13.2},{"s":"2.4 A","x":2884,"y":12.0},{"s":"2.4 A","x":2886,"y":10.8},{"s":"2.4 A","x":2887,"y":9.6},{"s":"2.4 A","x":2889,"y":8.4},{"s":"2.4 A","x":2891,"y":7.2},{"s":"2.4 A","x":2894,"y":6.0},{"s":"2.4 A","x":2898,"y":4.9},{"s":"2.4 A","x":2904,"y":3.9},{"s":"2.4 A","x":2912,"y":3.0},{"s":"2.4 A","x":2922,"y":2.3},{"s":"2.4 A","x":2935,"y":1.7},{"s":"2.4 A","x":2950,"y":1.3},{"s":"2.4 A","x":2970,"y":1.0},{"s":"2.4 A","x":2990,"y":0.85},{"s":"2.4 A","x":2905,"y":1.2},{"s":"2.4 A","x":2920,"y":0.6},{"s":"2.4 A","x":2945,"y":0.25},{"s":"2.4 A","x":2975,"y":0.1},
{"s":"2.4 A","x":3000,"y":0.8},{"s":"2.4 A","x":3025,"y":0.2},{"s":"2.4 A","x":3050,"y":0.7},{"s":"2.4 A","x":3075,"y":0.08},{"s":"2.4 A","x":3100,"y":0.6},{"s":"2.4 A","x":3125,"y":0.05},{"s":"2.4 A","x":3150,"y":0.56},{"s":"2.4 A","x":3175,"y":0.05},{"s":"2.4 A","x":3200,"y":0.55},{"s":"2.4 A","x":3225,"y":0.05},{"s":"2.4 A","x":3250,"y":0.5},{"s":"2.4 A","x":3275,"y":0.05},{"s":"2.4 A","x":3300,"y":0.48},{"s":"2.4 A","x":3325,"y":0.05},{"s":"2.4 A","x":3350,"y":0.5},{"s":"2.4 A","x":3375,"y":0.05},{"s":"2.4 A","x":3400,"y":0.45},{"s":"2.4 A","x":3425,"y":0.05},{"s":"2.4 A","x":3450,"y":0.43},{"s":"2.4 A","x":3475,"y":0.05},{"s":"2.4 A","x":3500,"y":0.46},{"s":"2.4 A","x":3525,"y":0.05},{"s":"2.4 A","x":3550,"y":0.4},{"s":"2.4 A","x":3575,"y":0.05},{"s":"2.4 A","x":3600,"y":0.39},{"s":"2.4 A","x":3625,"y":0.05},{"s":"2.4 A","x":3650,"y":0.43},{"s":"2.4 A","x":3675,"y":0.05},{"s":"2.4 A","x":3700,"y":0.37},{"s":"2.4 A","x":3725,"y":0.05},{"s":"2.4 A","x":3750,"y":0.36},{"s":"2.4 A","x":3775,"y":0.05},{"s":"2.4 A","x":3800,"y":0.4},{"s":"2.4 A","x":3825,"y":0.05},{"s":"2.4 A","x":3850,"y":0.35},{"s":"2.4 A","x":3875,"y":0.05},{"s":"2.4 A","x":3900,"y":0.34},{"s":"2.4 A","x":3925,"y":0.05},{"s":"2.4 A","x":3950,"y":0.38},{"s":"2.4 A","x":3975,"y":0.05},{"s":"2.4 A","x":4000,"y":0.33},{"s":"2.4 A","x":4025,"y":0.05},{"s":"2.4 A","x":4050,"y":0.32},{"s":"2.4 A","x":4075,"y":0.05},{"s":"2.4 A","x":4100,"y":0.36},{"s":"2.4 A","x":4125,"y":0.05},{"s":"2.4 A","x":4150,"y":0.31},{"s":"2.4 A","x":4175,"y":0.05},{"s":"2.4 A","x":4200,"y":0.3},{"s":"2.4 A","x":4225,"y":0.05},{"s":"2.4 A","x":4250,"y":0.34},{"s":"2.4 A","x":4275,"y":0.05},{"s":"2.4 A","x":4300,"y":0.29},{"s":"2.4 A","x":4325,"y":0.05},{"s":"2.4 A","x":4350,"y":0.28},{"s":"2.4 A","x":4375,"y":0.05},{"s":"2.4 A","x":4400,"y":0.32},{"s":"2.4 A","x":4425,"y":0.05},{"s":"2.4 A","x":4450,"y":0.27},{"s":"2.4 A","x":4475,"y":0.05},{"s":"2.4 A","x":4500,"y":0.27},{"s":"2.4 A","x":4525,"y":0.05},{"s":"2.4 A","x":4550,"y":0.3},{"s":"2.4 A","x":4575,"y":0.05},{"s":"2.4 A","x":4600,"y":0.26},{"s":"2.4 A","x":4625,"y":0.05},{"s":"2.4 A","x":4650,"y":0.25},{"s":"2.4 A","x":4675,"y":0.05},{"s":"2.4 A","x":4700,"y":0.28},{"s":"2.4 A","x":4725,"y":0.05},{"s":"2.4 A","x":4750,"y":0.24},{"s":"2.4 A","x":4775,"y":0.05},{"s":"2.4 A","x":4800,"y":0.23},{"s":"2.4 A","x":4825,"y":0.05},{"s":"2.4 A","x":4850,"y":0.26},{"s":"2.4 A","x":4875,"y":0.05},{"s":"2.4 A","x":4900,"y":0.22},{"s":"2.4 A","x":4925,"y":0.05},{"s":"2.4 A","x":4950,"y":0.21},{"s":"2.4 A","x":4975,"y":0.05},{"s":"2.4 A","x":5000,"y":0.24},{"s":"2.4 A","x":5025,"y":0.05},{"s":"2.4 A","x":5050,"y":0.2},{"s":"2.4 A","x":5075,"y":0.05},{"s":"2.4 A","x":5100,"y":0.19},{"s":"2.4 A","x":5125,"y":0.05},{"s":"2.4 A","x":5150,"y":0.22},{"s":"2.4 A","x":5175,"y":0.05},{"s":"2.4 A","x":5200,"y":0.18},{"s":"2.4 A","x":5225,"y":0.05},{"s":"2.4 A","x":5250,"y":0.17},{"s":"2.4 A","x":5275,"y":0.05},{"s":"2.4 A","x":5300,"y":0.2},{"s":"2.4 A","x":5325,"y":0.05},{"s":"2.4 A","x":5350,"y":0.16},{"s":"2.4 A","x":5375,"y":0.05},{"s":"2.4 A","x":5400,"y":0.15},{"s":"2.4 A","x":5425,"y":0.05},{"s":"2.4 A","x":5450,"y":0.17},{"s":"2.4 A","x":5475,"y":0.05},{"s":"2.4 A","x":5500,"y":0.14},{"s":"2.4 A","x":5525,"y":0.05},{"s":"2.4 A","x":5550,"y":0.13},{"s":"2.4 A","x":5575,"y":0.05},{"s":"2.4 A","x":5600,"y":0.13},{"s":"2.4 A","x":5625,"y":0.05},{"s":"2.4 A","x":5650,"y":0.12},{"s":"2.4 A","x":5675,"y":0.05},{"s":"2.4 A","x":5700,"y":0.12},{"s":"2.4 A","x":5725,"y":0.05},{"s":"2.4 A","x":5750,"y":0.12},{"s":"2.4 A","x":5775,"y":0.05},{"s":"2.4 A","x":5800,"y":0.1},{"s":"2.4 A","x":5825,"y":0.05},{"s":"2.4 A","x":5850,"y":0.1},{"s":"2.4 A","x":5875,"y":0.05},{"s":"2.4 A","x":5900,"y":0.1},{"s":"2.4 A","x":5925,"y":0.05},{"s":"2.4 A","x":5950,"y":0.1},{"s":"2.4 A","x":5975,"y":0.05},{"s":"2.4 A","x":6000,"y":0.25}
],
"notes":[
{"tx":4104,"ty":31.2,"t":"Beam collimated 5mm x 5 mm"},
{"tx":4355,"ty":26.5,"t":"1.54 A: 7.8 kHz"},
{"tx":4355,"ty":21.95,"t":"2 A: 14 kHz"},
{"tx":4355,"ty":18.3,"t":"2.4 A: 5.6 kHz"}
]},
"layer":[
{"data":{"name":"pts"},
"transform":[{"filter":"datum.s == '2.0 A' && datum.y < 0.3"}],
"mark":{"type":"point","filled":true,"shape":"square","color":"#000000","opacity":0.85,"yOffset":7,"size":400,"stroke":"#000000","strokeWidth":2.5},
"encoding":{
"x":{"field":"x","type":"quantitative","scale":{"domain":[0,6000],"nice":false,"zero":false},"axis":{"values":[0,1000,2000,3000,4000,5000,6000],"grid":false,"offset":-82.5,"tickSize":7,"labelPadding":17,"labelExpr":"'' + datum.value"}},
"y":{"field":"y","type":"quantitative","scale":{"domain":[-5,55],"nice":false,"zero":false},"axis":{"values":[-5,5,15,25,35,45,55],"grid":true,"tickSize":8,"labelPadding":16,"labelOffset":3,"labelExpr":"'' + datum.value"}}
}},
{"data":{"name":"pts"},
"transform":[{"filter":"datum.s != '2.4 A'"}],
"mark":{"type":"point","filled":true,"opacity":1,"strokeWidth":2.5},
"encoding":{
"x":{"field":"x","type":"quantitative","scale":{"domain":[0,6000],"nice":false,"zero":false}},
"y":{"field":"y","type":"quantitative","scale":{"domain":[-5,55],"nice":false,"zero":false}},
"color":{"field":"s","type":"nominal","scale":{"domain":["1.54 A","2.0 A","2.4 A"],"range":["#5b9bd5","#dd6661","#a9c56c"]},"legend":{"title":null,"orient":"none","legendX":1458,"legendY":461,"labelFont":"Lato","labelFontSize":22.5,"labelColor":"#1e1e3c","symbolSize":340,"rowPadding":27,"labelOffset":1,"symbolStrokeWidth":0,"padding":0}},
"shape":{"field":"s","type":"nominal","scale":{"domain":["1.54 A","2.0 A","2.4 A"],"range":["diamond","square","triangle-up"]},"legend":{"title":null,"orient":"none","legendX":1458,"legendY":461,"labelFont":"Lato","labelFontSize":22.5,"labelColor":"#1e1e3c","symbolSize":340,"rowPadding":27,"labelOffset":1,"symbolStrokeWidth":0,"padding":0}},
"stroke":{"field":"s","type":"nominal","scale":{"domain":["1.54 A","2.0 A","2.4 A"],"range":["#5b9bd5","#dd6661","#a9c56c"]},"legend":null},
"size":{"field":"s","type":"nominal","scale":{"domain":["1.54 A","2.0 A","2.4 A"],"range":[300,400,400]},"legend":null}
}},
{"data":{"name":"pts"},
"transform":[{"filter":"datum.s == '2.4 A' && datum.y < 3.5 && (datum.y < 0.9 || datum.x < 560 || datum.x >= 2300 || (datum.x < 1000 && datum.y < 1.8) || (datum.x < 1200 && datum.y < 1.1))"}],
"mark":{"type":"point","filled":true,"shape":"triangle-up","color":"#000000","opacity":0.35,"yOffset":11,"size":400,"stroke":"#000000","strokeWidth":2.5},
"encoding":{
"x":{"field":"x","type":"quantitative","scale":{"domain":[0,6000],"nice":false,"zero":false}},
"y":{"field":"y","type":"quantitative","scale":{"domain":[-5,55],"nice":false,"zero":false}}
}},
{"data":{"name":"pts"},
"transform":[{"filter":"datum.s == '2.4 A' && datum.y < 3.5 && (datum.y < 0.9 || datum.x < 560 || datum.x >= 2300 || (datum.x < 1000 && datum.y < 1.8) || (datum.x < 1200 && datum.y < 1.1))"}],
"mark":{"type":"point","filled":true,"shape":"triangle-up","color":"#000000","opacity":0.95,"yOffset":8,"size":400,"stroke":"#000000","strokeWidth":2.5},
"encoding":{
"x":{"field":"x","type":"quantitative","scale":{"domain":[0,6000],"nice":false,"zero":false}},
"y":{"field":"y","type":"quantitative","scale":{"domain":[-5,55],"nice":false,"zero":false}}
}},
{"data":{"name":"pts"},
"transform":[{"filter":"datum.s == '2.4 A'"}],
"mark":{"type":"point","filled":true,"opacity":1,"strokeWidth":2.5},
"encoding":{
"x":{"field":"x","type":"quantitative","scale":{"domain":[0,6000],"nice":false,"zero":false}},
"y":{"field":"y","type":"quantitative","scale":{"domain":[-5,55],"nice":false,"zero":false}},
"color":{"field":"s","type":"nominal","scale":{"domain":["1.54 A","2.0 A","2.4 A"],"range":["#5b9bd5","#dd6661","#a9c56c"]},"legend":{"title":null,"orient":"none","legendX":1458,"legendY":461,"labelFont":"Lato","labelFontSize":22.5,"labelColor":"#1e1e3c","symbolSize":340,"rowPadding":27,"labelOffset":1,"symbolStrokeWidth":0,"padding":0}},
"shape":{"field":"s","type":"nominal","scale":{"domain":["1.54 A","2.0 A","2.4 A"],"range":["diamond","square","triangle-up"]},"legend":{"title":null,"orient":"none","legendX":1458,"legendY":461,"labelFont":"Lato","labelFontSize":22.5,"labelColor":"#1e1e3c","symbolSize":340,"rowPadding":27,"labelOffset":1,"symbolStrokeWidth":0,"padding":0}},
"stroke":{"field":"s","type":"nominal","scale":{"domain":["1.54 A","2.0 A","2.4 A"],"range":["#5b9bd5","#dd6661","#a9c56c"]},"legend":null},
"size":{"field":"s","type":"nominal","scale":{"domain":["1.54 A","2.0 A","2.4 A"],"range":[300,400,400]},"legend":null}
}},
{"data":{"name":"notes"},
"mark":{"type":"text","align":"left","baseline":"alphabetic","font":"Lato","fontSize":44.8,"color":"#000000"},
"encoding":{
"x":{"field":"tx","type":"quantitative","scale":{"domain":[0,6000],"nice":false,"zero":false}},
"y":{"field":"ty","type":"quantitative","scale":{"domain":[-5,55],"nice":false,"zero":false}},
"text":{"field":"t","type":"nominal"}
}}
]
}
